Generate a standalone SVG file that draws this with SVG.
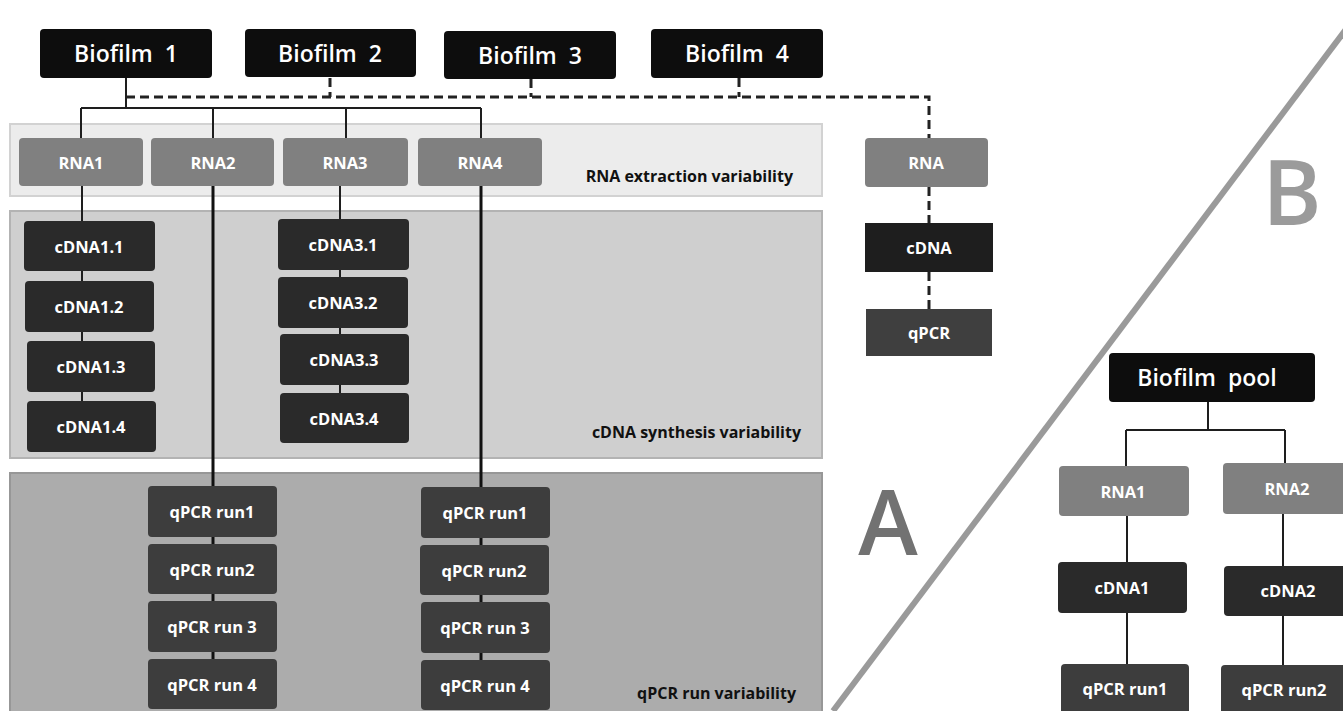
<svg xmlns="http://www.w3.org/2000/svg" width="1343" height="711" viewBox="0 0 1343 711">
<style>
.t{font-family:"Open Sans","Liberation Sans",sans-serif;font-weight:700;fill:#fff;text-anchor:middle;dominant-baseline:central}
.bf{font-size:23px;font-weight:600;white-space:pre}
.s{font-size:16.5px}
.lbl{font-family:"Open Sans","Liberation Sans",sans-serif;font-weight:700;fill:#111;font-size:16px;text-anchor:end}
.big{font-family:"Open Sans","Liberation Sans",sans-serif;font-weight:600;font-size:90px}
.ln{stroke:#1e1e1e;stroke-width:2;fill:none}
.lt{stroke:#111;stroke-width:3;fill:none}
.ds{stroke:#222;stroke-width:3;fill:none;stroke-dasharray:9,5}
.blk{fill:#0d0d0d}
.rna{fill:#808080}
.cd{fill:#2a2a2a}
.qp{fill:#3d3d3d}
</style>
<rect width="1343" height="711" fill="#fff"/>
<g id="bands">
<rect x="10" y="124" width="812" height="72" fill="#ececec" stroke="#d2d2d2" stroke-width="2"/>
<rect x="10" y="211" width="812" height="247" fill="#cfcfcf" stroke="#b3b3b3" stroke-width="2"/>
<rect x="10" y="473" width="812" height="245" fill="#acacac" stroke="#979797" stroke-width="2"/>
<line x1="833" y1="711" x2="1368" y2="0" stroke="#9a9a9a" stroke-width="6"/>
</g>
<g id="connectors">
<path class="ds" d="M126 97H929V138M330 78V97M531 79V97M739 78V97M929 187V223M929 272V309"/>
<path class="ln" d="M126 78V108M81 108H481M81 108V138M213 108V138M346 108V138M481 108V138"/>
<path class="ln" d="M82 186V401M340 186V393"/>
<path class="lt" d="M213 186V660M481 186V660"/>
<path class="ln" d="M1208 402V430M1126 430H1285M1126 430V466M1285 430V463M1127 516V664M1283 514V665"/>
</g>
<g id="biofilm1"><rect class="blk" x="40" y="29" width="172" height="49" rx="4"/><text class="t bf" x="126" y="53" xml:space="preserve">Biofilm  1</text></g>
<g id="biofilm2"><rect class="blk" x="245" y="29" width="171" height="48" rx="4"/><text class="t bf" x="330" y="53" xml:space="preserve">Biofilm  2</text></g>
<g id="biofilm3"><rect class="blk" x="444" y="31" width="172" height="48" rx="4"/><text class="t bf" x="530" y="55" xml:space="preserve">Biofilm  3</text></g>
<g id="biofilm4"><rect class="blk" x="651" y="29" width="172" height="49" rx="4"/><text class="t bf" x="737" y="53" xml:space="preserve">Biofilm  4</text></g>
<g id="rna1"><rect class="rna" x="19" y="138" width="124" height="48" rx="4"/><text class="t s" x="81" y="162">RNA1</text></g>
<g id="rna2"><rect class="rna" x="151" y="138" width="123" height="48" rx="4"/><text class="t s" x="213" y="162">RNA2</text></g>
<g id="rna3"><rect class="rna" x="283" y="138" width="125" height="48" rx="4"/><text class="t s" x="345" y="162">RNA3</text></g>
<g id="rna4"><rect class="rna" x="418" y="138" width="124" height="48" rx="4"/><text class="t s" x="480" y="162">RNA4</text></g>
<g id="band-labels">
<text class="lbl" x="793" y="182">RNA extraction variability</text>
<text class="lbl" x="801" y="438">cDNA synthesis variability</text>
<text class="lbl" x="796" y="699">qPCR run variability</text>
</g>
<g id="cdna1-1"><rect class="cd" x="24" y="221" width="131" height="50" rx="4"/><text class="t s" x="89" y="246">cDNA1.1</text></g>
<g id="cdna1-2"><rect class="cd" x="25" y="281" width="129" height="51" rx="4"/><text class="t s" x="89" y="306">cDNA1.2</text></g>
<g id="cdna1-3"><rect class="cd" x="27" y="341" width="128" height="51" rx="4"/><text class="t s" x="91" y="366">cDNA1.3</text></g>
<g id="cdna1-4"><rect class="cd" x="27" y="401" width="129" height="51" rx="4"/><text class="t s" x="91" y="426">cDNA1.4</text></g>
<g id="cdna3-1"><rect class="cd" x="278" y="219" width="131" height="51" rx="4"/><text class="t s" x="343" y="244">cDNA3.1</text></g>
<g id="cdna3-2"><rect class="cd" x="278" y="277" width="130" height="51" rx="4"/><text class="t s" x="343" y="302">cDNA3.2</text></g>
<g id="cdna3-3"><rect class="cd" x="280" y="334" width="129" height="51" rx="4"/><text class="t s" x="344" y="359">cDNA3.3</text></g>
<g id="cdna3-4"><rect class="cd" x="280" y="393" width="129" height="50" rx="4"/><text class="t s" x="344" y="418">cDNA3.4</text></g>
<g id="qpcr2-1"><rect class="qp" x="148" y="486" width="129" height="51" rx="4"/><text class="t s" x="212" y="511">qPCR run1</text></g>
<g id="qpcr2-2"><rect class="qp" x="148" y="544" width="129" height="50" rx="4"/><text class="t s" x="212" y="569">qPCR run2</text></g>
<g id="qpcr2-3"><rect class="qp" x="148" y="601" width="129" height="51" rx="4"/><text class="t s" x="212" y="626">qPCR run 3</text></g>
<g id="qpcr2-4"><rect class="qp" x="148" y="659" width="129" height="50" rx="4"/><text class="t s" x="212" y="684">qPCR run 4</text></g>
<g id="qpcr4-1"><rect class="qp" x="421" y="487" width="129" height="51" rx="4"/><text class="t s" x="485" y="512">qPCR run1</text></g>
<g id="qpcr4-2"><rect class="qp" x="420" y="545" width="129" height="50" rx="4"/><text class="t s" x="484" y="570">qPCR run2</text></g>
<g id="qpcr4-3"><rect class="qp" x="421" y="602" width="129" height="51" rx="4"/><text class="t s" x="485" y="627">qPCR run 3</text></g>
<g id="qpcr4-4"><rect class="qp" x="421" y="660" width="129" height="50" rx="4"/><text class="t s" x="485" y="685">qPCR run 4</text></g>
<g id="rna-b"><rect class="rna" x="865" y="138" width="123" height="49" rx="4"/><text class="t s" x="926" y="162">RNA</text></g>
<g id="cdna-b"><rect fill="#1e1e1e" x="865" y="223" width="128" height="49"/><text class="t s" x="929" y="247">cDNA</text></g>
<g id="qpcr-b"><rect fill="#3f3f3f" x="866" y="309" width="126" height="47"/><text class="t s" x="929" y="332">qPCR</text></g>
<g id="label-a"><text class="big" x="888" y="555" fill="#727272" text-anchor="middle">A</text></g>
<g id="label-b"><text class="big" x="1292" y="225" fill="#9b9b9b" text-anchor="middle">B</text></g>
<g id="biofilm-pool"><rect class="blk" x="1109" y="353" width="206" height="49" rx="4"/><text class="t bf" x="1207" y="377" xml:space="preserve">Biofilm  pool</text></g>
<g id="p-rna1"><rect class="rna" x="1059" y="466" width="130" height="50" rx="4"/><text class="t s" x="1123" y="491">RNA1</text></g>
<g id="p-rna2"><rect class="rna" x="1223" y="463" width="130" height="51" rx="4"/><text class="t s" x="1287" y="488">RNA2</text></g>
<g id="p-cdna1"><rect class="cd" x="1058" y="562" width="129" height="51" rx="4"/><text class="t s" x="1122" y="587">cDNA1</text></g>
<g id="p-cdna2"><rect class="cd" x="1224" y="566" width="130" height="50" rx="4"/><text class="t s" x="1288" y="590">cDNA2</text></g>
<g id="p-qpcr1"><rect class="qp" x="1061" y="664" width="128" height="55" rx="4"/><text class="t s" x="1125" y="688">qPCR run1</text></g>
<g id="p-qpcr2"><rect class="qp" x="1221" y="665" width="130" height="55" rx="4"/><text class="t s" x="1284" y="689">qPCR run2</text></g>
</svg>
